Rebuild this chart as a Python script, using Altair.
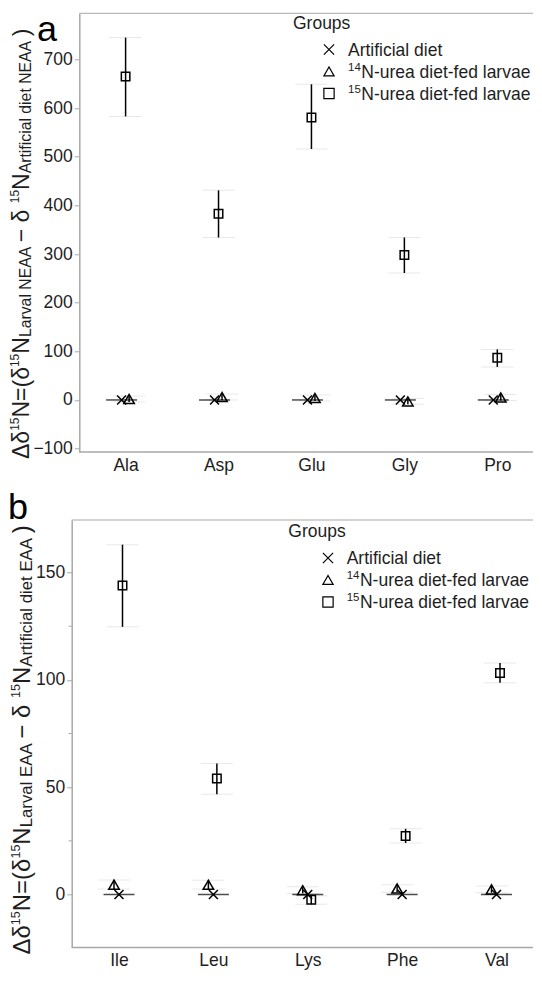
import altair as alt
import pandas as pd

FONT = "Liberation Sans"
TXT = "#1e1e1e"
GRAY = "#a8a8a8"
CAP = "#e0e0e0"

groups = ["Artificial diet", "14N-urea diet-fed larvae", "15N-urea diet-fed larvae"]
legend_sup = ["", "14", "15"]
legend_main = ["Artificial diet", "N-urea diet-fed larvae", "N-urea diet-fed larvae"]
XPATH = "M-1,-1L1,1M1,-1L-1,1"
shapes = [XPATH, "triangle-up", "square"]
sizes = [80, 110, 72]

# ---------- panel a : non-essential amino acids ----------
neaa = ["Ala", "Asp", "Glu", "Gly", "Pro"]
neaa_diet = [0, 0, 0, 0, 0]
neaa_n14 = [2, 6, 4, -3, 5]
neaa_n14_lo = [-4, 0, -2, -9, -1]
neaa_n14_hi = [8, 12, 10, 3, 11]
neaa_n15 = [665, 383, 581, 298, 87]
neaa_n15_lo = [583, 334, 516, 261, 68]
neaa_n15_hi = [745, 431, 649, 334, 104]
neaa_ticks = [-100, 0, 100, 200, 300, 400, 500, 600, 700]

# ---------- panel b : essential amino acids ----------
eaa = ["Ile", "Leu", "Lys", "Phe", "Val"]
eaa_diet = [0, 0, 0, 0, 0]
eaa_n14 = [4.6, 4.5, 2.0, 2.8, 2.4]
eaa_n14_lo = [2.6, 2.5, 0.5, 1.0, 0.8]
eaa_n14_hi = [6.8, 6.6, 3.6, 4.5, 4.0]
eaa_n15 = [144, 54, -2.4, 27.3, 103.2]
eaa_n15_lo = [124.7, 46.7, -4.6, 24.0, 98.7]
eaa_n15_hi = [163, 61, -0.6, 30.6, 107.9]
eaa_ticks = [0, 50, 100, 150]
eaa_minor = [25, 75, 125]


def long_df(cats, diet, n14, n14lo, n14hi, n15, n15lo, n15hi):
    rows = []
    for i, c in enumerate(cats):
        rows.append(dict(aa=c, group=groups[0], mean=diet[i], lo=diet[i], hi=diet[i]))
        rows.append(dict(aa=c, group=groups[1], mean=n14[i], lo=n14lo[i], hi=n14hi[i]))
        rows.append(dict(aa=c, group=groups[2], mean=n15[i], lo=n15lo[i], hi=n15hi[i]))
    return pd.DataFrame(rows)


# Arial / Liberation Sans advance widths (1/1000 em) for laying out rich text
ADV = {' ': 278, '(': 333, ')': 333, '=': 584, '−': 584, 'Δ': 667, 'δ': 556,
       '1': 556, '4': 556, '5': 556, 'N': 722, 'E': 667, 'A': 667, 'L': 556,
       'a': 556, 'r': 333, 'v': 500, 'l': 222, 't': 278, 'i': 222, 'f': 278,
       'c': 500, 'd': 556, 'e': 556}


def twidth(s, fs):
    return sum(ADV.get(ch, 556) for ch in s) * fs / 1000.0


# whole figure is one drawing area whose origin sits at page (79.3, 13.3)
OX, OY = 79.3, 13.3
WTOT, HTOT = 454, 956.7


def cx(p):
    return p - OX


def cy(p):
    return p - OY


ONE = pd.DataFrame({"k": [0]})


def txt(s, x, y, fs, angle=0, color=TXT):
    kw = dict(text=s, align="left", baseline="alphabetic", font=FONT,
              fontSize=fs, color=color)
    if angle:
        kw["angle"] = angle
    return alt.Chart(ONE).mark_text(**kw).encode(x=alt.value(x), y=alt.value(y))


def title_pieces(kind):
    return [("Δδ", "M"), ("15", "P"), ("N=(δ", "M"), ("15", "P"), ("N", "M"),
            (f" Larval {kind}", "S"), (" − δ", "M"), ("15", "P"), ("N", "M"),
            (f" Artificial diet {kind}", "S"), (")", "M")]


def panel(df, cats, left, top, bottom, centers, ydom, yvals, offs, letter,
          title_kind, fonts, bases, leg, minor=None):
    """left/top/bottom: page coordinates of this panel's plot area;
    centers: page x of the first and last category."""
    x0, y0, y1 = cx(left), cy(top), cy(bottom)
    x_axis = alt.Axis(title=None, orient="bottom", offset=y1 - HTOT,
                      labelAngle=0, ticks=False, domain=False, labelFont=FONT,
                      labelFontSize=17.5, labelColor=TXT, labelPadding=4)
    y_axis = alt.Axis(title=None, orient="left", offset=-x0, values=yvals,
                      grid=False, tickColor=GRAY, tickSize=5, tickWidth=1,
                      domainColor=GRAY, domainWidth=1.5, labelFont=FONT,
                      labelFontSize=17.5, labelColor=TXT, labelPadding=2)
    X = alt.X("aa:N", sort=cats, axis=x_axis,
              scale=alt.Scale(type="point", padding=0, domain=cats,
                              range=[cx(centers[0]), cx(centers[1])]))
    yscale = alt.Scale(domain=ydom, nice=False, zero=False, range=[y1, y0])

    def Y(f):
        return alt.Y(f"{f}:Q", scale=yscale, axis=y_axis)

    base = alt.Chart(df)
    layers = []
    # frame: top line and bottom axis line
    layers.append(alt.Chart(ONE).mark_rule(color=GRAY, strokeWidth=1).encode(
        x=alt.value(x0), x2=alt.value(WTOT), y=alt.value(y0)))
    layers.append(alt.Chart(ONE).mark_rule(color=GRAY, strokeWidth=1.5).encode(
        x=alt.value(x0), x2=alt.value(WTOT), y=alt.value(y1)))
    if minor:
        layers.append(alt.Chart(pd.DataFrame({"v": minor})).mark_rule(
            color=GRAY, strokeWidth=1).encode(
            y=Y("v"), x=alt.value(x0 - 3), x2=alt.value(x0)))
    # faint whisker caps
    for gi in (1, 2):
        sub = base.transform_filter(alt.datum.group == groups[gi])
        for f in ("lo", "hi"):
            layers.append(sub.mark_tick(orient="horizontal", color=CAP,
                                        thickness=1, size=32).encode(
                x=X, y=Y(f), xOffset=alt.value(offs[gi])))
    # error bars
    for gi in (1, 2):
        sub = base.transform_filter(alt.datum.group == groups[gi])
        layers.append(sub.mark_rule(color="black", strokeWidth=1.5).encode(
            x=X, y=Y("lo"), y2="hi:Q", xOffset=alt.value(offs[gi])))
    # reference line of the artificial diet
    sub = base.transform_filter(alt.datum.group == groups[0])
    layers.append(sub.mark_tick(orient="horizontal", color="black", thickness=1.5,
                                size=31).encode(
        x=X, y=Y("mean"), xOffset=alt.value(offs[0])))
    # points
    for gi in range(3):
        sub = base.transform_filter(alt.datum.group == groups[gi])
        layers.append(sub.mark_point(filled=False, color="black", strokeWidth=1.5,
                                     opacity=1, size=sizes[gi],
                                     shape=shapes[gi]).encode(
            x=X, y=Y("mean"), xOffset=alt.value(offs[gi])))
    # legend (drawn as marks so the superscripts stay real superscripts)
    tx, tb, sx, lx = leg
    LF = 17.5
    layers.append(txt("Groups", cx(tx), cy(tb), LF))
    for gi in range(3):
        c = cy(tb) + 20.5 + 22 * gi
        layers.append(alt.Chart(ONE).mark_point(
            filled=False, color="black", strokeWidth=1.2, opacity=1, size=105,
            shape=shapes[gi]).encode(x=alt.value(cx(sx)), y=alt.value(c)))
        xx = cx(lx)
        if legend_sup[gi]:
            layers.append(txt(legend_sup[gi], xx, c - 1, 11.5))
            xx += twidth(legend_sup[gi], 11.5) + 0.5
        layers.append(txt(legend_main[gi], xx, c + 6, LF))
    # rotated rich y-axis title, read bottom to top
    yy = y1 + 7
    for s, kind in title_pieces(title_kind):
        fs = fonts[kind]
        layers.append(txt(s, cx(bases[kind]), yy, fs, angle=270))
        yy -= twidth(s, fs)
    # panel letter
    layers.append(txt(letter[0], cx(letter[1]), cy(letter[2]), letter[3],
                      color="black"))
    return alt.layer(*layers)


pa = panel(long_df(neaa, neaa_diet, neaa_n14, neaa_n14_lo, neaa_n14_hi,
                   neaa_n15, neaa_n15_lo, neaa_n15_hi),
           neaa, 79.3, 13.3, 452, (125.6, 497.3), [-107, 795], neaa_ticks,
           [-4, 3.5, 0], ("a", 37, 40.8, 36), "NEAA",
           {"M": 23, "S": 15.8, "P": 12}, {"M": 29, "S": 31.5, "P": 19.2},
           (293, 29, 329, 348))

pb = panel(long_df(eaa, eaa_diet, eaa_n14, eaa_n14_lo, eaa_n14_hi,
                   eaa_n15, eaa_n15_lo, eaa_n15_hi),
           eaa, 71.7, 520, 947.5, (119, 496.5), [-24.7, 174.5], eaa_ticks,
           [0, -5, 3.5], ("b", 8, 519.3, 36), "EAA",
           {"M": 24, "S": 16.8, "P": 12.5}, {"M": 30, "S": 32, "P": 19.6},
           (288.3, 537.5, 328, 346.7), minor=eaa_minor)

chart = alt.layer(pa, pb).resolve_scale(
    x="independent", y="independent"
).properties(
    width=WTOT, height=HTOT,
    autosize=alt.AutoSizeParams(type="none"),
    padding={"left": OX - 8, "top": OY - 8, "right": 0, "bottom": 0},
).configure(font=FONT).configure_view(stroke=None)

chart.save("out.html", embed_options={"renderer": "svg", "actions": False})
